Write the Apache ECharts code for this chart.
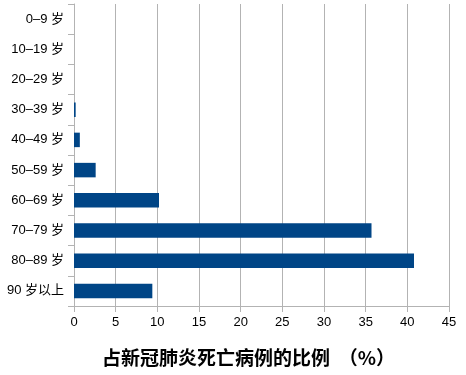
<!DOCTYPE html>
<html>
<head>
<meta charset="utf-8">
<script src="https://cdn.jsdelivr.net/npm/echarts@6/dist/echarts.min.js"></script>
<style>
html,body{margin:0;padding:0;background:#fff;}
#main{width:466px;height:375px;}
</style>
</head>
<body>
<div id="main"></div>
<script>
const categories = ['0–9 岁','10–19 岁','20–29 岁','30–39 岁','40–49 岁','50–59 岁','60–69 岁','70–79 岁','80–89 岁','90 岁以上'];
const values = [0, 0, 0, 0.2, 0.7, 2.6, 10.2, 35.7, 40.8, 9.4];
const titleText = '占新冠肺炎死亡病例的比例  （%）';

const FONT = '"Liberation Sans", "Noto Sans CJK SC", sans-serif';
const chart = echarts.init(document.getElementById('main'));
chart.setOption({
  animation: false,
  backgroundColor: '#ffffff',
  title: {
    text: titleText,
    left: 97,
    top: 343,
    textStyle: {fontFamily: '"Noto Sans CJK SC", sans-serif', fontSize: 19, fontWeight: 'bold', color: '#000'}
  },
  grid: {left: 74, right: 17, top: 4, bottom: 69, containLabel: false},
  xAxis: {
    type: 'value',
    min: 0, max: 45, interval: 5,
    axisLine: {show: true, lineStyle: {color: '#b3b3b3', width: 1}},
    axisTick: {show: true, length: 6, lineStyle: {color: '#b3b3b3'}},
    splitLine: {show: true, lineStyle: {color: '#b3b3b3', width: 1}},
    axisLabel: {fontFamily: FONT, fontSize: 13, color: '#000', margin: 10}
  },
  yAxis: {
    type: 'category',
    data: categories,
    inverse: true,
    axisLine: {show: true, lineStyle: {color: '#b3b3b3', width: 1}},
    axisTick: {show: true, length: 6, lineStyle: {color: '#b3b3b3'}},
    axisLabel: {fontFamily: FONT, fontSize: 13, color: '#000', margin: 10}
  },
  series: [{
    type: 'bar',
    data: values,
    barWidth: '48%',
    itemStyle: {color: '#004586'}
  }]
});
</script>
</body>
</html>
